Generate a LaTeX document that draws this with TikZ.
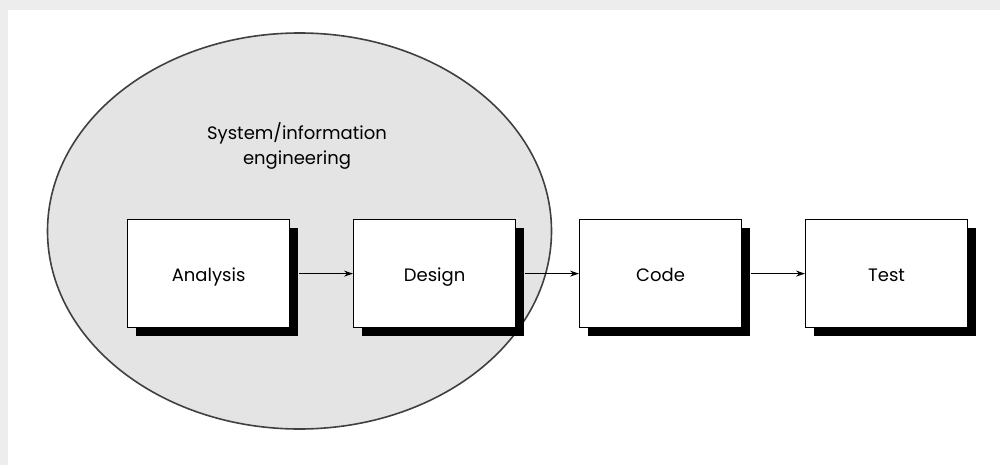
\documentclass[tikz,border=0pt]{standalone}
\usepackage{fontspec}
\setmainfont{Poppins}
\usetikzlibrary{arrows.meta}
\definecolor{scopefill}{HTML}{E4E4E4}
\definecolor{scopeline}{HTML}{404040}
\definecolor{edgegray}{HTML}{EDEDED}
\tikzset{
  stagebox/.style={draw=black, line width=1.2pt, fill=white, minimum width=162pt, minimum height=108pt, inner sep=0pt, text height=16pt, text depth=0pt, font=\fontsize{18}{21}\selectfont},
  dropshadow/.style={fill=black, draw=none},
  flow/.style={line width=1.1pt, -{Stealth[length=9pt, width=6pt]}},
}
\begin{document}
\begin{tikzpicture}[x=1pt, y=-1pt]
  \useasboundingbox (0,0) rectangle (1000,465);
  \fill[white] (0,0) rectangle (1000,465);
  % thin grey page edge at top and left
  \fill[edgegray] (0,0) rectangle (1000,10);
  \fill[edgegray] (0,0) rectangle (8,465);

  % scope of system/information engineering
  \draw[scopeline, fill=scopefill, line width=1.6pt] (299.5,231) ellipse [x radius=252, y radius=198];
  \node[font=\fontsize{18}{25}\selectfont, align=center] (scope) at (297,146) {System/information\\engineering};

  % stage boxes with drop shadows
  \foreach \x/\n/\t in {127/a/Analysis, 353/d/Design, 579/c/Code, 805/t/Test} {
    \fill[dropshadow] (\x+9,228) rectangle (\x+171,336);
    \node[stagebox, anchor=north west] (\n) at (\x,219) {\t};
  }

  % flow between stages
  \draw[flow] ([xshift=9pt]a.east) -- (d.west);
  \draw[flow] ([xshift=9pt]d.east) -- (c.west);
  \draw[flow] ([xshift=9pt]c.east) -- (t.west);
\end{tikzpicture}
\end{document}
